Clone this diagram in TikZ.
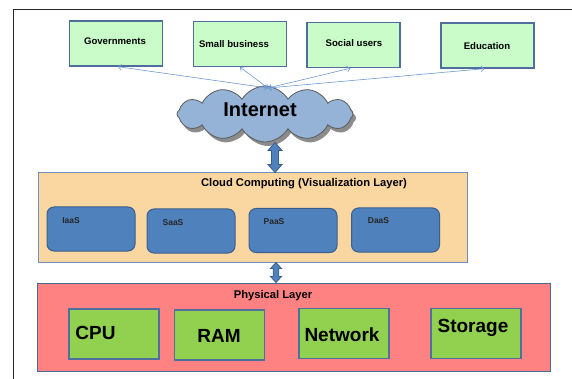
\documentclass[tikz,border=0pt]{standalone}
\usepackage{fontspec}
\setmainfont{Liberation Sans}
\usetikzlibrary{shapes.symbols,shadows,arrows.meta}

\definecolor{usergreen}{HTML}{C9FCC9}
\definecolor{userborder}{HTML}{4F6E9E}
\definecolor{cloudfill}{HTML}{95B3D7}
\definecolor{cloudedge}{HTML}{5A5A5A}
\definecolor{linkblue}{HTML}{6C98D4}
\definecolor{layerorange}{HTML}{FAD7A0}
\definecolor{layeredge}{HTML}{6F8FBF}
\definecolor{svcblue}{HTML}{4F81BD}
\definecolor{svcedge}{HTML}{3A5F8E}
\definecolor{physred}{HTML}{FF8282}
\definecolor{physedge}{HTML}{4A6A9A}
\definecolor{hwgreen}{HTML}{92D050}
\definecolor{hwedge}{HTML}{4F6F9F}
\definecolor{fatblue}{HTML}{4F81BD}
\definecolor{fatedge}{HTML}{385D8A}

% vertical block double arrow: #1 top, #2 bottom, #3 shaft half width,
% #4 head half width, #5 head length
\newcommand{\blockarrow}[5]{%
  \draw[fill=fatblue, draw=fatedge, line width=0.8pt, line join=miter]
    ([xshift=-#3]#1) ++(0,#5) -- ++(-#4+#3,0) -- (#1) -- ++(#4,#5) -- ++(-#4+#3,0)
    -- ([xshift=#3,yshift=#5]#2) -- ++(#4-#3,0) -- (#2) -- ++(-#4,-#5) -- ++(#4-#3,0)
    -- cycle;}

\begin{document}
\begin{tikzpicture}[x=1pt,y=-1pt,
  userbox/.style={rectangle, draw=userborder, fill=usergreen, line width=1.4pt,
    minimum width=93pt, minimum height=45pt, inner sep=0pt},
  userlbl/.style={font=\bfseries\fontsize{9.6}{11}\selectfont, inner sep=0pt},
  link/.style={draw=linkblue, line width=0.6pt, <->,
    >={Straight Barb[length=3pt,width=5.5pt]}},
  layerbox/.style={rectangle, line width=1pt, inner sep=0pt},
  layerlbl/.style={font=\bfseries\fontsize{11.2}{13}\selectfont, inner sep=0pt},
  svcbox/.style={rectangle, rounded corners=7pt, draw=svcedge, fill=svcblue,
    line width=1pt, minimum width=88pt, minimum height=44pt, inner sep=0pt},
  svclbl/.style={font=\bfseries\fontsize{8.5}{10}\selectfont, text=black!85, inner sep=0pt},
  hwbox/.style={rectangle, draw=hwedge, fill=hwgreen, line width=1.4pt,
    minimum width=90pt, minimum height=50pt, inner sep=0pt},
  hwlbl/.style={font=\bfseries\fontsize{19}{22}\selectfont, inner sep=0pt}
]
\useasboundingbox (0,0) rectangle (572,379);

% page frame
\draw[line width=1.7pt, draw=black!85] (572,9.5) -- (13.5,9.5) -- (13.5,379);

% user groups
\node[userbox] (gov) at (116,43.5) {};
\node[userbox] (sb)  at (240,44)   {};
\node[userbox] (su)  at (353.5,45) {};
\node[userbox] (edu) at (487.5,45.5) {};
\node[userlbl] (govt) at (115,41) {Governments};
\node[userlbl] (sbt)  at (234,44) {Small business};
\node[userlbl] (sut)  at (354,43) {Social users};
\node[userlbl] (edut) at (487,46) {Education};

% internet cloud
\node[cloud, cloud puffs=12, cloud puff arc=120, aspect=3.1,
      minimum width=176pt, minimum height=56pt, inner sep=0pt,
      draw=cloudedge, fill=cloudfill, line width=0.8pt,
      drop shadow={shadow xshift=3pt, shadow yshift=-4pt, fill=black!45, opacity=1}]
      (inet) at (265,114) {};
\node[font=\bfseries\fontsize{20}{24}\selectfont, inner sep=0pt] (inett) at (260,110) {Internet};

% links between the cloud and the user groups
\coordinate (hub) at (268,88);
\draw[link] (hub) -- ([xshift=2pt]gov.south);
\draw[link] (hub) -- (sb.south);
\draw[link] (hub) -- ([xshift=-3pt]su.south);
\draw[link] (hub) -- ([xshift=-3pt]edu.south);

% cloud computing layer
\node[layerbox, draw=layeredge, fill=layerorange, minimum width=429pt, minimum height=89pt]
  (cc) at (252.5,217.5) {};
\node[layerlbl] (cct) at (304,184) {Cloud Computing (Visualization Layer)};
\node[svcbox] (iaas) at (91,229)    {};
\node[svcbox] (saas) at (191,231)   {};
\node[svcbox] (paas) at (293,230.5) {};
\node[svcbox] (daas) at (395.5,230) {};
\node[svclbl] (iaast) at (71,221)   {IaaS};
\node[svclbl] (saast) at (173,223)  {SaaS};
\node[svclbl] (paast) at (274,222)  {PaaS};
\node[svclbl] (daast) at (378.5,221) {DaaS};

% physical layer
\node[layerbox, draw=physedge, fill=physred, minimum width=513pt, minimum height=88pt]
  (phys) at (293.5,327) {};
\node[layerlbl] (physt) at (273,296) {Physical Layer};
\node[hwbox] (cpu) at (114,334)   {};
\node[hwbox] (ram) at (219.5,335) {};
\node[hwbox] (net) at (344,333.5) {};
\node[hwbox] (sto) at (476,333.5) {};
\node[hwlbl] (cput) at (95.5,333) {CPU};
\node[hwlbl] (ramt) at (219,336)  {RAM};
\node[hwlbl] (nett) at (342,335)  {Network};
\node[hwlbl] (stot) at (473,328)  {Storage};

% data paths between the layers
\coordinate (a1top) at (275,142.5);
\coordinate (a1bot) at (cc.north -| a1top);
\blockarrow{a1top}{a1bot}{3.5pt}{7pt}{8}
\coordinate (a2top) at (276,262.5);
\coordinate (a2bot) at (phys.north -| a2top);
\blockarrow{a2top}{a2bot}{2.8pt}{5.5pt}{6}
\end{tikzpicture}
\end{document}
